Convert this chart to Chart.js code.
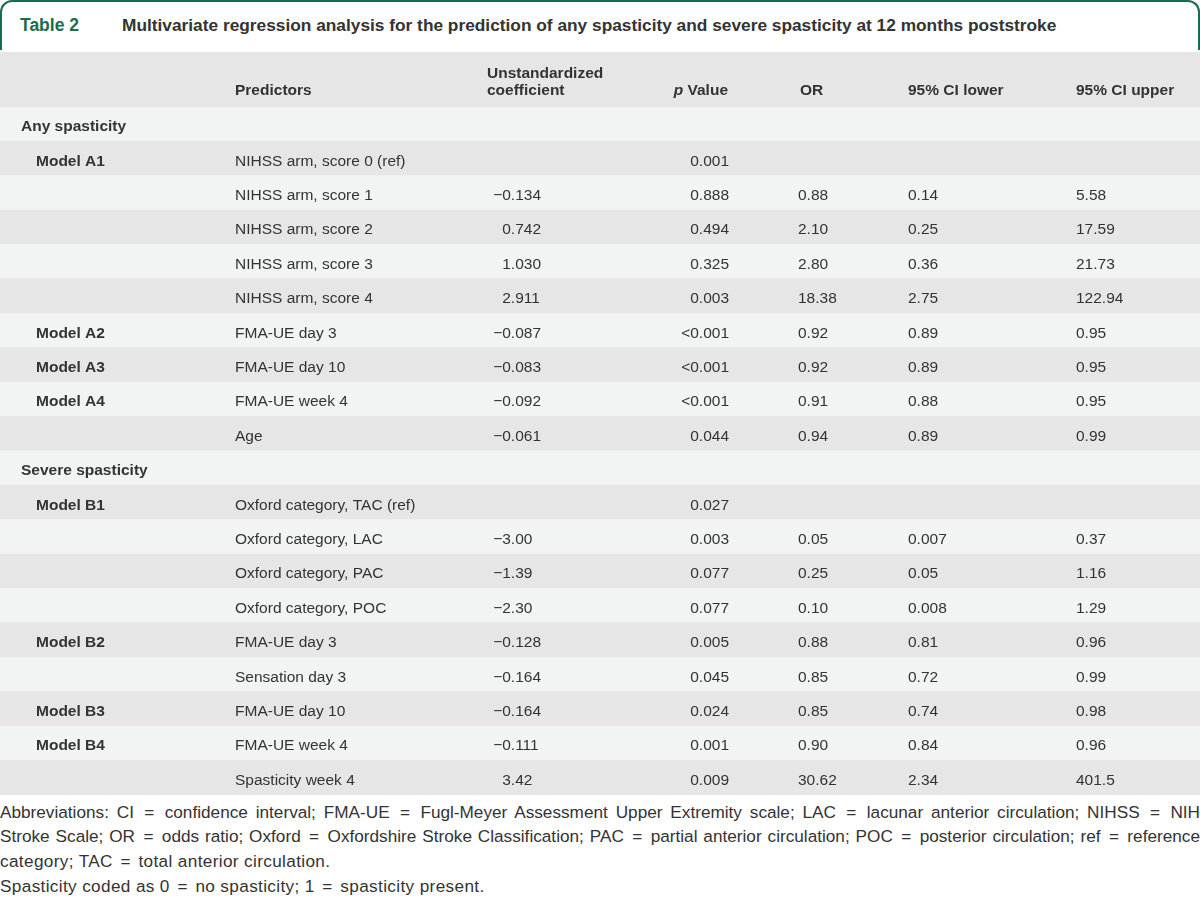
<!DOCTYPE html>
<html>
<head>
<meta charset="utf-8">
<script src="https://cdn.jsdelivr.net/npm/chart.js@4.4.1/dist/chart.umd.min.js"></script>
<style>
  html, body { margin: 0; padding: 0; background: #ffffff; }
  body { width: 1200px; height: 898px; position: relative; overflow: hidden;
         font-family: "Liberation Sans", Arial, sans-serif; color: #333333; }
  #titleBox { position: absolute; left: 0; top: 0; width: 1200px; height: 50px; box-sizing: border-box;
              border: 2px solid #176d4d; border-bottom: none; border-radius: 12px 12px 0 0; }
  #tabNo { position: absolute; left: 20px; top: 15px; font-weight: bold; font-size: 17.5px; color: #176d4d; white-space: nowrap; }
  #tabTitle { position: absolute; left: 122px; top: 15px; font-weight: bold; font-size: 17.5px; color: #333333; white-space: nowrap; }
  #chartWrap { position: absolute; left: 0; top: 52px; width: 1200px; height: 743px; }
  #foot { position: absolute; left: 0; top: 799.5px; width: 1200px; font-size: 17.2px; line-height: 24.8px; color: #333333; }
  #foot .j { text-align: justify; text-align-last: justify; }
  #foot .w { letter-spacing: 0.35px; }
  #foot .eq { margin: 0 2.5px; }
  #foot div { height: 24.8px; white-space: nowrap; }
</style>
</head>
<body>
<div id="titleBox"></div>
<div id="tabNo">Table 2</div>
<div id="tabTitle">Multivariate regression analysis for the prediction of any spasticity and severe spasticity at 12 months poststroke</div>
<div id="chartWrap"><canvas id="c" width="1200" height="743" style="width:1200px;height:743px"></canvas></div>
<div id="foot">
  <div class="j">Abbreviations: CI <span class="eq">=</span> confidence interval; FMA-UE <span class="eq">=</span> Fugl-Meyer Assessment Upper Extremity scale; LAC <span class="eq">=</span> lacunar anterior circulation; NIHSS <span class="eq">=</span> NIH</div>
  <div class="j">Stroke Scale; OR <span class="eq">=</span> odds ratio; Oxford <span class="eq">=</span> Oxfordshire Stroke Classification; PAC <span class="eq">=</span> partial anterior circulation; POC <span class="eq">=</span> posterior circulation; ref <span class="eq">=</span> reference</div>
  <div class="w">category; TAC <span class="eq">=</span> total anterior circulation.</div>
  <div class="w">Spasticity coded as 0 <span class="eq">=</span> no spasticity; 1 <span class="eq">=</span> spasticity present.</div>
</div>
<script>
// ---- table data ----
const groupLabels = ["Any spasticity", "Model A1", "", "", "", "", "Model A2", "Model A3", "Model A4", "",
                     "Severe spasticity", "Model B1", "", "", "", "Model B2", "", "Model B3", "Model B4", ""];
const sectionRows = [0, 10];
const predictors = ["", "NIHSS arm, score 0 (ref)", "NIHSS arm, score 1", "NIHSS arm, score 2", "NIHSS arm, score 3",
                    "NIHSS arm, score 4", "FMA-UE day 3", "FMA-UE day 10", "FMA-UE week 4", "Age",
                    "", "Oxford category, TAC (ref)", "Oxford category, LAC", "Oxford category, PAC", "Oxford category, POC",
                    "FMA-UE day 3", "Sensation day 3", "FMA-UE day 10", "FMA-UE week 4", "Spasticity week 4"];
const coefficients = ["", "", "\u22120.134", "0.742", "1.030", "2.911", "\u22120.087", "\u22120.083", "\u22120.092", "\u22120.061",
                      "", "", "\u22123.00", "\u22121.39", "\u22122.30", "\u22120.128", "\u22120.164", "\u22120.164", "\u22120.111", "3.42"];
const pValues = ["", "0.001", "0.888", "0.494", "0.325", "0.003", "<0.001", "<0.001", "<0.001", "0.044",
                 "", "0.027", "0.003", "0.077", "0.077", "0.005", "0.045", "0.024", "0.001", "0.009"];
const oddsRatios = ["", "", "0.88", "2.10", "2.80", "18.38", "0.92", "0.92", "0.91", "0.94",
                    "", "", "0.05", "0.25", "0.10", "0.88", "0.85", "0.85", "0.90", "30.62"];
const ciLower = ["", "", "0.14", "0.25", "0.36", "2.75", "0.89", "0.89", "0.88", "0.89",
                 "", "", "0.007", "0.05", "0.008", "0.81", "0.72", "0.74", "0.84", "2.34"];
const ciUpper = ["", "", "5.58", "17.59", "21.73", "122.94", "0.95", "0.95", "0.95", "0.99",
                 "", "", "0.37", "1.16", "1.29", "0.96", "0.99", "0.98", "0.96", "401.5"];
const headerLabels = ["Predictors", "Unstandardized|coefficient", "p Value", "OR", "95% CI lower", "95% CI upper"];
const rowKeys = predictors.map((p, i) => "r" + i);
const rowBand = predictors.map(() => 1);

// ---- style ----
const FONT = '"Liberation Sans", Arial, sans-serif';
const TXT = '#333333';
const LIGHT = '#f2f3f3';
const DARK = '#e6e6e6';

// fit the title to the reference width
(function () {
  const el = document.getElementById('tabTitle');
  const m = document.createElement('canvas').getContext('2d');
  m.font = 'bold 17.5px ' + FONT;
  const w = m.measureText(el.textContent).width;
  el.style.fontSize = (17.5 * 935 / w).toFixed(2) + 'px';
})();

const tablePlugin = {
  id: 'tableText',
  beforeDatasetsDraw(chart) {
    const ctx = chart.ctx, area = chart.chartArea;
    ctx.save();
    ctx.fillStyle = DARK;
    ctx.fillRect(0, 0, chart.width, area.top);
    ctx.fillStyle = TXT;
    ctx.textBaseline = 'alphabetic';
    const hb2 = area.top - 12, hb1 = hb2 - 17.5;
    ctx.font = 'bold 15.5px ' + FONT;
    ctx.textAlign = 'left';
    ctx.fillText(headerLabels[0], 235, hb2);
    const uc = headerLabels[1].split('|');
    ctx.fillText(uc[0], 487, hb1);
    ctx.fillText(uc[1], 487, hb2);
    const rest = headerLabels[2].slice(1);
    const wRest = ctx.measureText(rest).width;
    ctx.textAlign = 'right';
    ctx.fillText(rest, 728, hb2);
    ctx.font = 'italic bold 15.5px ' + FONT;
    ctx.fillText(headerLabels[2][0], 728 - wRest, hb2);
    ctx.font = 'bold 15.5px ' + FONT;
    ctx.textAlign = 'left';
    ctx.fillText(headerLabels[3], 800, hb2);
    ctx.fillText(headerLabels[4], 908, hb2);
    ctx.fillText(headerLabels[5], 1076, hb2);
    ctx.restore();
  },
  afterDatasetsDraw(chart) {
    const ctx = chart.ctx, ys = chart.scales.y;
    ctx.save();
    ctx.fillStyle = TXT;
    ctx.textBaseline = 'alphabetic';
    const reg = '15.5px ' + FONT, bold = 'bold 15.5px ' + FONT;
    ctx.font = reg;
    const coefDec = 541 - ctx.measureText('.134').width;
    const pDec = 729 - ctx.measureText('.001').width;
    function decimal(s, x, b) {
      if (!s) return;
      const k = s.indexOf('.');
      const a = k < 0 ? s : s.slice(0, k), c = k < 0 ? '' : s.slice(k);
      ctx.textAlign = 'right'; ctx.fillText(a, x, b);
      ctx.textAlign = 'left'; ctx.fillText(c, x, b);
    }
    for (let i = 0; i < rowKeys.length; i++) {
      const b = ys.getPixelForValue(i) + 7;
      if (groupLabels[i]) {
        ctx.font = bold; ctx.textAlign = 'left';
        ctx.fillText(groupLabels[i], sectionRows.includes(i) ? 21 : 36, b);
      }
      ctx.font = reg; ctx.textAlign = 'left';
      if (predictors[i]) ctx.fillText(predictors[i], 235, b);
      decimal(coefficients[i], coefDec, b);
      decimal(pValues[i], pDec, b);
      ctx.textAlign = 'left';
      if (oddsRatios[i]) ctx.fillText(oddsRatios[i], 798, b);
      if (ciLower[i]) ctx.fillText(ciLower[i], 908, b);
      if (ciUpper[i]) ctx.fillText(ciUpper[i], 1076, b);
    }
    ctx.restore();
  }
};

new Chart(document.getElementById('c'), {
  type: 'bar',
  data: {
    labels: rowKeys,
    datasets: [{
      data: rowBand,
      backgroundColor: rowKeys.map((k, i) => (i % 2 === 0 ? LIGHT : DARK)),
      borderWidth: 0,
      barPercentage: 1,
      categoryPercentage: 1,
      inflateAmount: 0.5
    }]
  },
  options: {
    indexAxis: 'y',
    responsive: false,
    animation: false,
    events: [],
    layout: { padding: { top: 55, left: 0, right: 0, bottom: 0 } },
    scales: {
      x: { type: 'linear', min: 0, max: 1, display: false },
      y: { type: 'category', display: false, offset: true }
    },
    plugins: { legend: { display: false }, tooltip: { enabled: false }, title: { display: false } }
  },
  plugins: [tablePlugin]
});
</script>
</body>
</html>
